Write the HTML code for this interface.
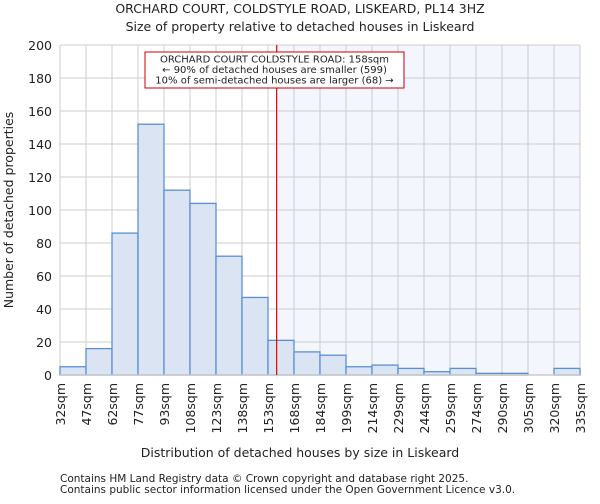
<!DOCTYPE html>
<html><head><meta charset="utf-8"><style>
body{margin:0;background:#fff;font-family:"DejaVu Sans","Liberation Sans",sans-serif;}
svg text{font-family:"DejaVu Sans","Liberation Sans",sans-serif;fill:#222;}
</style></head><body>
<svg id="c" width="600" height="500" xmlns="http://www.w3.org/2000/svg">
<text x="300" y="13" text-anchor="middle" font-size="12.5">ORCHARD COURT, COLDSTYLE ROAD, LISKEARD, PL14 3HZ</text>
<text x="300" y="31" text-anchor="middle" font-size="12.5">Size of property relative to detached houses in Liskeard</text>
<g id="plot"></g>
<text x="300" y="457" text-anchor="middle" font-size="12.5">Distribution of detached houses by size in Liskeard</text>
<text transform="translate(13,210) rotate(-90)" text-anchor="middle" font-size="12.5">Number of detached properties</text>
<text x="60" y="482" font-size="10.5">Contains HM Land Registry data © Crown copyright and database right 2025.</text>
<text x="60" y="493" font-size="10.5">Contains public sector information licensed under the Open Government Licence v3.0.</text>
</svg>
<script>
const edgeLabels=["32sqm","47sqm","62sqm","77sqm","93sqm","108sqm","123sqm","138sqm","153sqm","168sqm","184sqm","199sqm","214sqm","229sqm","244sqm","259sqm","274sqm","290sqm","305sqm","320sqm","335sqm"];
const counts=[5,16,86,152,112,104,72,47,21,14,12,5,6,4,2,4,1,1,0,4];
const yTicks=[0,20,40,60,80,100,120,140,160,180,200];
const markerIndex=8+5/15; // 158sqm in bin units
const ns="http://www.w3.org/2000/svg";
const L=60,R=580,T=45,B=375,yMax=200;
const bw=(R-L)/counts.length;
const xs=i=>L+i*bw;
const ys=v=>B-(v/yMax)*(B-T);
const g=document.getElementById('plot');
function mk(t,a){const e=document.createElementNS(ns,t);for(const k in a)e.setAttribute(k,a[k]);g.appendChild(e);return e;}
let e=mk('rect',{x:L,y:T,width:R-L,height:B-T,fill:'#fff'});


e=mk('rect',{x:xs(markerIndex),y:T,width:R-xs(markerIndex),height:B-T,fill:'#f3f6fd'});


yTicks.forEach(v=>{
 e=mk('line',{x1:L,x2:R,y1:ys(v),y2:ys(v),stroke:'#ccc','stroke-width':1});
 
 
 e=mk('text',{x:L-8,y:ys(v)+5,'text-anchor':'end','font-size':12.5});
 e.textContent=v;
 
 
});
edgeLabels.forEach((s,i)=>{
 e=mk('line',{x1:xs(i),x2:xs(i),y1:T,y2:B,stroke:'#ccc','stroke-width':1});
 
 
 e=mk('text',{transform:`translate(${xs(i)+5},${B+8}) rotate(-90)`,'text-anchor':'end','font-size':12.5});
 e.textContent=s;
 
 
});
counts.forEach((v,i)=>{
 if(v<=0)return;
 e=mk('rect',{x:xs(i),y:ys(v),width:bw,height:B-ys(v),fill:'#dae4f3',stroke:'#5b8fd4','stroke-width':1.3});
 
 
});
e=mk('line',{x1:L,x2:R,y1:B,y2:B,stroke:'#ccc','stroke-width':1.5});


const mx=xs(markerIndex);
e=mk('line',{x1:mx,x2:mx,y1:T,y2:B,stroke:'#d00','stroke-width':1.2});


e=mk('rect',{x:145,y:52,width:259,height:36,fill:'#fff',stroke:'#c00','stroke-width':1});


["ORCHARD COURT COLDSTYLE ROAD: 158sqm","← 90% of detached houses are smaller (599)","10% of semi-detached houses are larger (68) →"].forEach((s,i)=>{
 e=mk('text',{x:274.5,y:62.5+i*10.5,'text-anchor':'middle','font-size':10});
 e.textContent=s;
 
 
});
</script>
</body></html>
